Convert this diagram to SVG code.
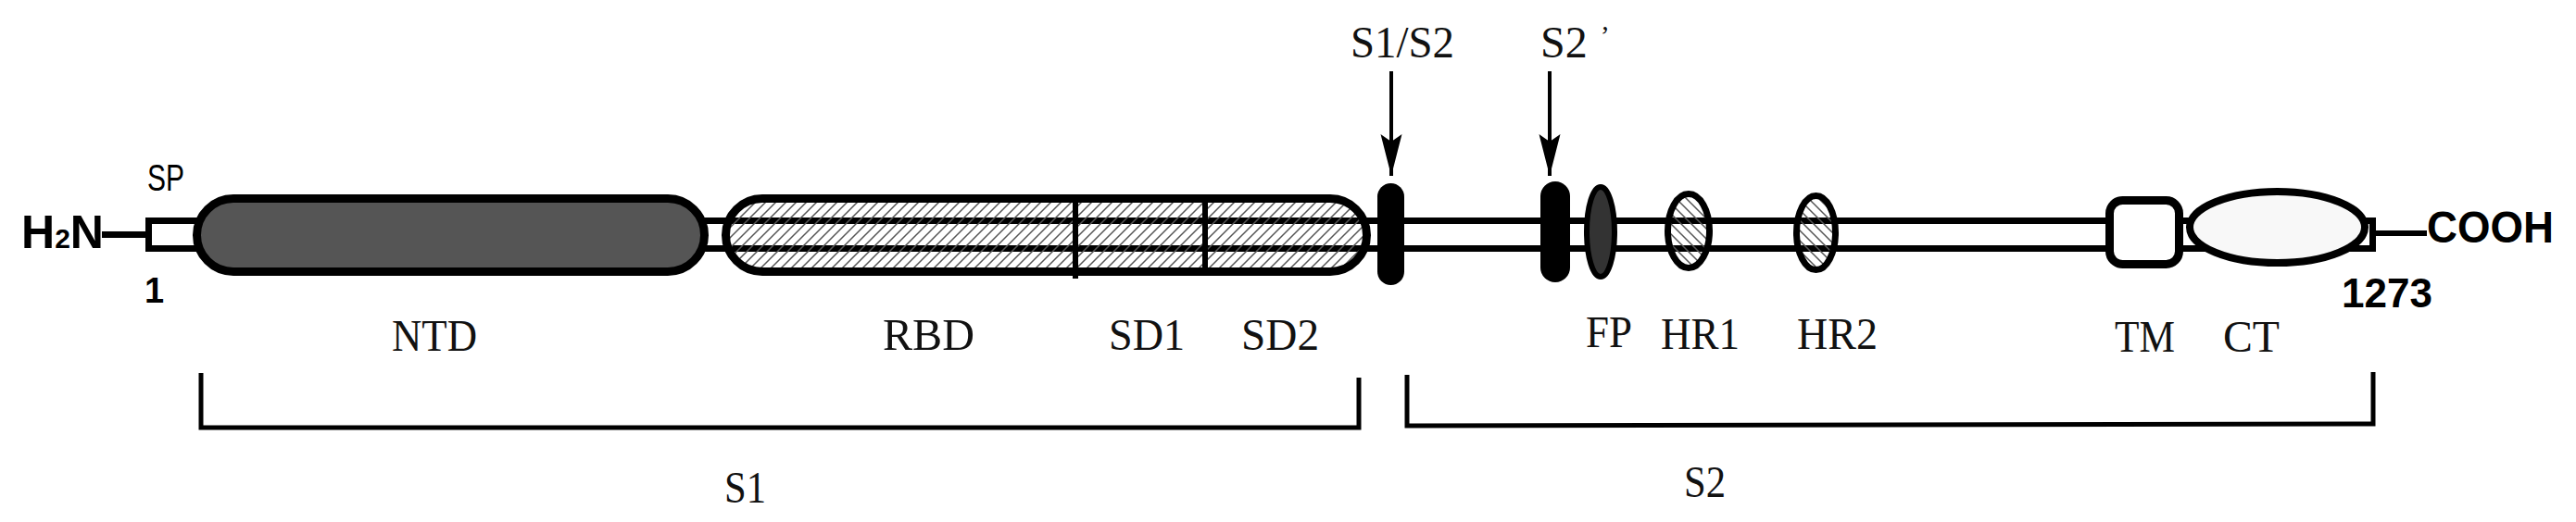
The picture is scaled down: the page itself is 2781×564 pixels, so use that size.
<svg xmlns="http://www.w3.org/2000/svg" width="2781" height="564" viewBox="0 0 2781 564">
<defs>
<pattern id="hatchF" patternUnits="userSpaceOnUse" width="11" height="11">
<path d="M-2,2 L2,-2 M0,11 L11,0 M9,13 L13,9" stroke="#555" stroke-width="1.5"/>
</pattern>
<pattern id="hatchB" patternUnits="userSpaceOnUse" width="11" height="11">
<path d="M-2,9 L2,13 M0,0 L11,11 M9,-2 L13,2" stroke="#555" stroke-width="1.5"/>
</pattern>
<marker id="ah" viewBox="0 0 46 24" refX="45" refY="12" markerWidth="46" markerHeight="24" markerUnits="userSpaceOnUse" orient="auto">
<path d="M0,0.5 L8,12 L0,23.5 L45,12 Z" fill="#000"/>
</marker>
<style>
.ln{fill:none;stroke:#000;stroke-width:7}
.sans{font-family:"Liberation Sans",Arial,sans-serif;fill:#000}
.bold{font-weight:bold}
.serif{font-family:"Liberation Serif","Times New Roman",serif;font-size:48px;fill:#111}
.dom{stroke:#000;stroke-width:9}
.thin{stroke:#000;stroke-width:7}
.br{fill:none;stroke:#000;stroke-width:5;stroke-linejoin:miter}
.arr{stroke:#000;stroke-width:4}
</style>
</defs>
<rect width="2781" height="564" fill="#fff"/>

<g id="backbone">
<line x1="110" y1="253.5" x2="158" y2="253.5" class="ln"/>
<line x1="2564" y1="252" x2="2620" y2="252" class="ln" style="stroke-width:6"/>
<rect x="160.5" y="238.5" width="2401" height="30" fill="#fff" class="ln"/>
</g>

<g id="n-terminus">
<text class="sans bold" x="23" y="268" font-size="50" textLength="89" lengthAdjust="spacingAndGlyphs">H<tspan font-size="30">2</tspan>N</text>
<text class="sans" x="159" y="206" font-size="41" textLength="40" lengthAdjust="spacingAndGlyphs">SP</text>
<text class="sans bold" x="156" y="327" font-size="38">1</text>
</g>

<g id="ntd">
<rect x="212.5" y="214.5" width="548" height="79" rx="39.5" fill="#555" class="dom"/>
<text class="serif" x="423" y="379" textLength="92" lengthAdjust="spacingAndGlyphs">NTD</text>
</g>

<g id="rbd-sd">
<rect x="783.5" y="214.5" width="692" height="79" rx="39.5" fill="url(#hatchF)" class="dom"/>
<line x1="1161" y1="212" x2="1161" y2="301" stroke="#000" stroke-width="6"/>
<line x1="1301" y1="212" x2="1301" y2="297" stroke="#000" stroke-width="6"/>
<text class="serif" x="953" y="378" textLength="99" lengthAdjust="spacingAndGlyphs">RBD</text>
<text class="serif" x="1197" y="378" textLength="82" lengthAdjust="spacingAndGlyphs">SD1</text>
<text class="serif" x="1340" y="378" textLength="84" lengthAdjust="spacingAndGlyphs">SD2</text>
</g>

<g id="s1s2-site">
<rect x="1487" y="198" width="29" height="110" rx="14.5" fill="#000"/>
<text class="serif" x="1458" y="62" textLength="112" lengthAdjust="spacingAndGlyphs">S1/S2</text>
</g>

<g id="s2prime-site">
<rect x="1663" y="196" width="32" height="109" rx="16" fill="#000"/>
<text class="serif" x="1663" y="62">S2<tspan dx="14" font-size="30" dy="-14">’</tspan></text>
</g>

<g id="fp">
<ellipse cx="1728" cy="250.5" rx="15" ry="48.5" fill="#333" class="thin" style="stroke-width:6"/>
<text class="serif" x="1712" y="375" textLength="50" lengthAdjust="spacingAndGlyphs">FP</text>
</g>

<g id="hr1">
<ellipse cx="1823" cy="249.5" rx="22.5" ry="40" fill="url(#hatchB)" class="thin"/>
<text class="serif" x="1793" y="377" textLength="85" lengthAdjust="spacingAndGlyphs">HR1</text>
</g>

<g id="hr2">
<ellipse cx="1960.5" cy="251.5" rx="21" ry="40" fill="url(#hatchB)" class="thin"/>
<text class="serif" x="1940" y="377" textLength="87" lengthAdjust="spacingAndGlyphs">HR2</text>
</g>

<g id="tm">
<rect x="2277.5" y="216.5" width="75" height="69" rx="14" fill="#fff" class="dom"/>
<text class="serif" x="2283" y="380" textLength="65" lengthAdjust="spacingAndGlyphs">TM</text>
</g>

<g id="ct">
<ellipse cx="2458.5" cy="245.5" rx="94.5" ry="38.5" fill="#f8f8f8" class="dom" style="stroke-width:8"/>
<text class="serif" x="2400" y="380" textLength="61" lengthAdjust="spacingAndGlyphs">CT</text>
</g>

<g id="c-terminus">
<text class="sans bold" x="2620" y="262" font-size="48" textLength="137" lengthAdjust="spacingAndGlyphs">COOH</text>
<text class="sans bold" x="2528" y="332" font-size="44" textLength="98" lengthAdjust="spacingAndGlyphs">1273</text>
</g>

<g id="connectors">
<line x1="1502" y1="77" x2="1502" y2="190" class="arr" marker-end="url(#ah)"/>
<line x1="1673" y1="77" x2="1673" y2="190" class="arr" marker-end="url(#ah)"/>
<path class="br" d="M217,403 L217,462 L1467,462 L1467,408"/>
<path class="br" d="M1519,405 L1519,460 L2562,458 L2562,402"/>
</g>

<g id="region-labels">
<text class="serif" x="782" y="543" textLength="45" lengthAdjust="spacingAndGlyphs">S1</text>
<text class="serif" x="1818" y="537" textLength="45" lengthAdjust="spacingAndGlyphs">S2</text>
</g>
</svg>
